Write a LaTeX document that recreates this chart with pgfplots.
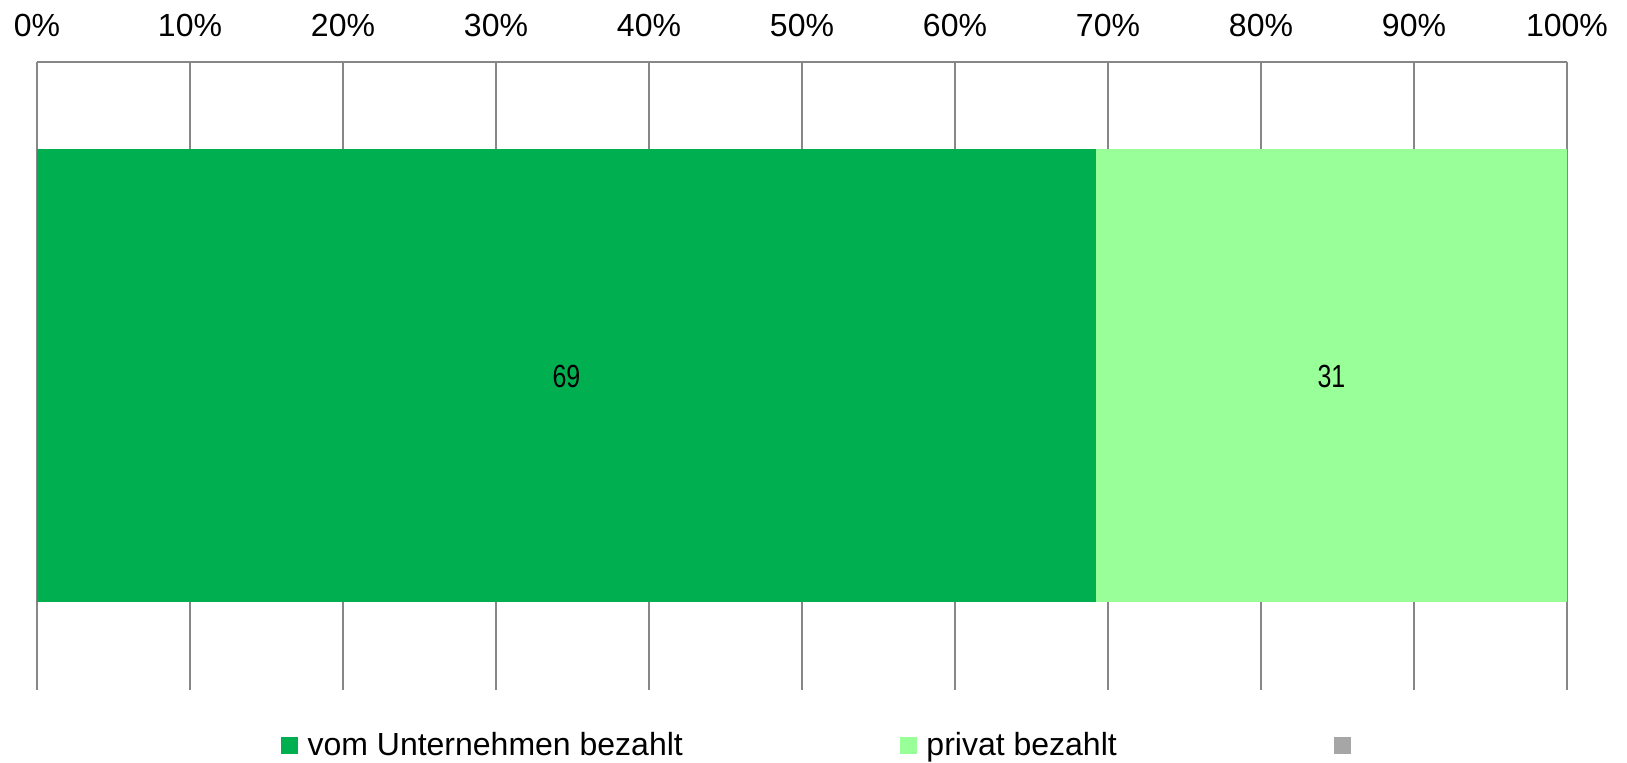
\documentclass[border=0pt]{standalone}
\usepackage{pgfplots}
\pgfplotsset{compat=1.18}
\usepackage{fontspec}
\setmainfont{Liberation Sans}
\newfontfamily\narrowfont[FakeStretch=0.78]{Liberation Sans}
\definecolor{cA}{HTML}{00B050}
\definecolor{cB}{HTML}{99FF99}
\definecolor{cC}{HTML}{A6A6A6}
\definecolor{gridc}{HTML}{878787}
\begin{document}
\begin{tikzpicture}
\begin{axis}[
  name=ax, at={(0,0)}, anchor=south west,
  scale only axis, width=765pt, height=314pt,
  xmin=0, xmax=100, ymin=-0.5, ymax=0.5,
  axis x line*=top, axis y line=none,
  x axis line style={draw=gridc, line width=0.8pt},
  xtick={0,10,...,100}, ytick=\empty,
  major tick length=0pt,
  xmajorgrids, grid style={draw=gridc, line width=0.8pt},
  xticklabel={\pgfmathprintnumber{\tick}\%},
  /pgf/number format/assume math mode=true,
  xticklabel style={font=\fontsize{16}{19}\selectfont, inner sep=0pt, anchor=base},
  xticklabel shift=12.5pt,
  legend columns=3,
  legend cell align=left,
  legend style={at={(0.5,0)}, anchor=center, yshift=-27.5pt, xshift=11.8pt, draw=none, fill=none,
    font=\fontsize{16}{19}\selectfont,
    nodes={inner sep=4.7pt},
    /tikz/every even column/.append style={column sep=104pt}},
]
\addplot[xbar, bar width=226.5pt, bar shift=0pt, fill=cB, draw=none, forget plot] coordinates {(100,0)};
\addplot[xbar, bar width=226.5pt, bar shift=0pt, fill=cA, draw=none, forget plot] coordinates {(69.2,0)};
\addplot[only marks, mark=*, mark size=0pt, mark options={draw=none, fill=none},
  nodes near coords, point meta=explicit symbolic,
  nodes near coords style={anchor=center, font=\narrowfont\fontsize{16}{19}\selectfont, text=black},
  forget plot] coordinates {(34.6,0)[69] (84.6,0)[31]};
\addlegendimage{legend image code/.code={\fill[cA] (0pt,-4pt) rectangle (8pt,4pt);}}
\addlegendentry{vom Unternehmen bezahlt}
\addlegendimage{legend image code/.code={\fill[cB] (0pt,-4pt) rectangle (8pt,4pt);}}
\addlegendentry{privat bezahlt}
\addlegendimage{legend image code/.code={\fill[cC] (0pt,-4pt) rectangle (8pt,4pt);}}
\addlegendentry{}
\end{axis}
\pgfresetboundingbox
\path (ax.south west) ++(-18.5pt,-36.5pt) coordinate (bl);
\path (ax.north east) ++(30pt,31pt) coordinate (tr);
\path (bl) rectangle (tr);
\end{tikzpicture}
\end{document}
